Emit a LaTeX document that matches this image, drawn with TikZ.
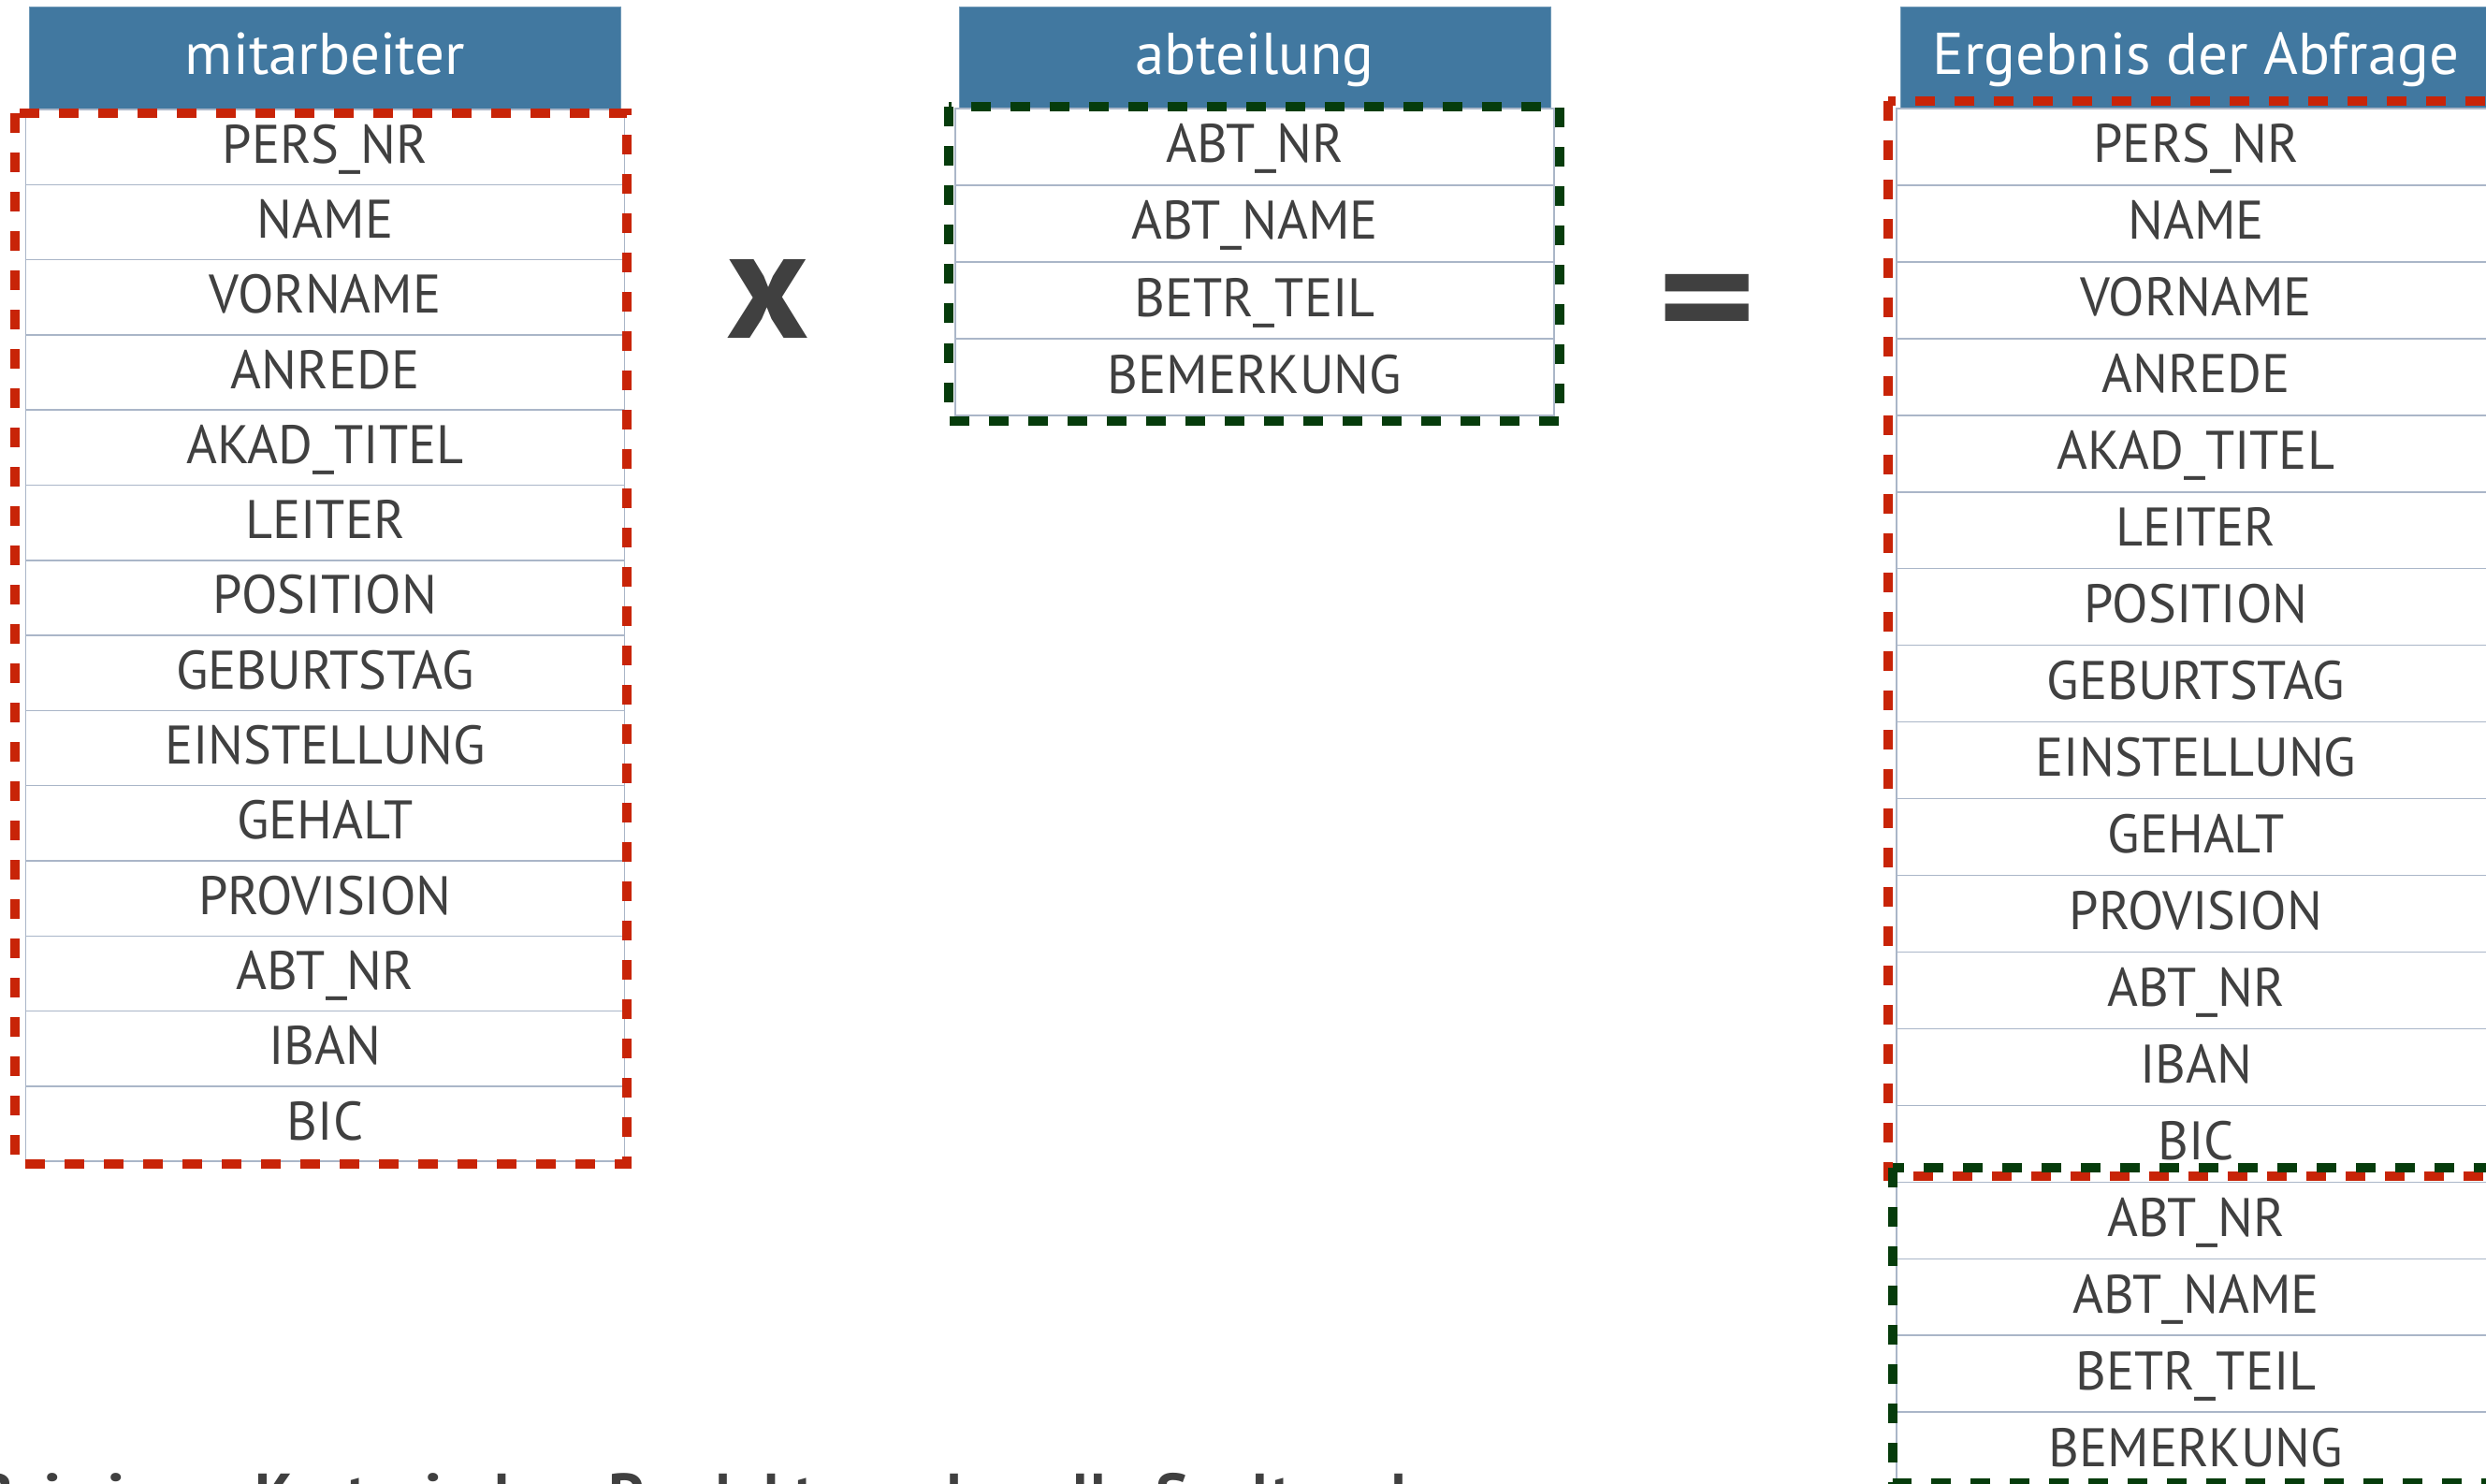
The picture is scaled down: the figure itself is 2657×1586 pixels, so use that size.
\documentclass[tikz,border=0pt]{standalone}
\usepackage{fontspec}
\setmainfont{PT Sans}
\newfontfamily\rowfont{PT Sans}[FakeStretch=0.97]
\definecolor{headblue}{RGB}{65,120,160}
\definecolor{txtgray}{RGB}{64,64,64}
\definecolor{sepline}{RGB}{170,182,200}
\definecolor{dashred}{RGB}{200,36,8}
\definecolor{dashgreen}{RGB}{6,60,12}
\tikzset{
 hdr/.style={fill=headblue, draw=headblue!75!white, line width=1pt, text=white,
   minimum width=632pt, minimum height=109pt, inner sep=0pt,
   text height=47pt, text depth=12pt, font=\fontsize{63}{65}\selectfont},
 rowbox/.style={draw=sepline, line width=1.5pt, fill=white, text=txtgray,
   minimum width=640pt, inner sep=0pt, text height=45pt, text depth=11pt,
   font=\rowfont\fontsize{58}{60}\selectfont},
 frame/.style={line width=10pt, dash pattern=on 21pt off 21pt},
 symb/.style={text=txtgray, inner sep=0pt},
}
\begin{document}
\begin{tikzpicture}[x=1pt,y=-1pt]
\useasboundingbox (0,0) rectangle (2657,1586);
\clip (0,0) rectangle (2657,1586);
\fill[white] (0,0) rectangle (2657,1586);
% headers
\node[hdr] (mh) at (347.5,62.5) {mitarbeiter};
\node[hdr] (ah) at (1341,62) {abteilung};
\node[hdr] (eh) at (2347,62) {Ergebnis der Abfrage};
% mitarbeiter rows
\foreach \t [count=\i] in {PERS\_NR,NAME,VORNAME,ANREDE,AKAD\_TITEL,LEITER,POSITION,GEBURTSTAG,EINSTELLUNG,GEHALT,PROVISION,ABT\_NR,IBAN,BIC}
  \node[rowbox, minimum height=80.3pt] (m\i) at (347.5,{117+(\i-0.5)*80.3}) {\t};
% abteilung rows
\foreach \t [count=\i] in {ABT\_NR,ABT\_NAME,BETR\_TEIL,BEMERKUNG}
  \node[rowbox, minimum height=82pt] (a\i) at (1341,{116+(\i-0.5)*82}) {\t};
% result rows
\foreach \t [count=\i] in {PERS\_NR,NAME,VORNAME,ANREDE,AKAD\_TITEL,LEITER,POSITION,GEBURTSTAG,EINSTELLUNG,GEHALT,PROVISION,ABT\_NR,IBAN,BIC,ABT\_NR,ABT\_NAME,BETR\_TEIL,BEMERKUNG}
  \node[rowbox, minimum height=81.95pt] (e\i) at (2347,{116+(\i-0.5)*81.95}) {\t};
% dashed frames
\draw[frame, dashred] (16,121) rectangle (670,1244);
\draw[frame, dashgreen] (1014,114.5) rectangle (1667,450);
\draw[frame, dashred] (2018,108) rectangle (2700,1257);
\draw[frame, dashgreen] (2023,1248) rectangle (2700,1585);
% operators
\node[symb, font=\bfseries\fontsize{168}{170}\selectfont] (times) at (821,320) {x};
\node[symb, anchor=base, font=\bfseries\fontsize{180}{180}\selectfont] (eq) at (1825,374.7) {\scalebox{1.12}[0.92]{=}};
% caption (cut off at bottom)
\node[symb, anchor=base west, font=\bfseries\fontsize{66}{66}\selectfont] (cap) at (-25,1621) {Bei einem Kartesischen Produkt werden alle Spalten der};
\end{tikzpicture}
\end{document}
